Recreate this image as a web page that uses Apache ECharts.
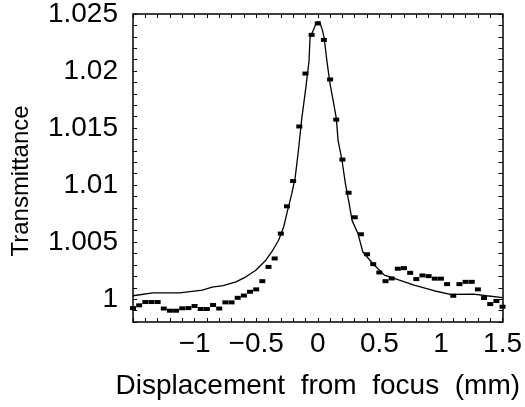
<!DOCTYPE html>
<html>
<head>
<meta charset="utf-8">
<script src="https://cdn.jsdelivr.net/npm/echarts@6/dist/echarts.min.js"></script>
<style>
  html, body { margin: 0; padding: 0; background: #fff; }
  #chart { width: 525px; height: 407px; }
</style>
</head>
<body>
<div id="chart"></div>
<script>
// measured points (dashes), one every 0.05 mm
const pointX = [
  -1.5, -1.45, -1.4, -1.35, -1.3, -1.25, -1.2, -1.15, -1.1, -1.05,
  -1.0, -0.95, -0.9, -0.85, -0.8, -0.75, -0.7, -0.65, -0.6, -0.55,
  -0.5, -0.45, -0.4, -0.35, -0.3, -0.25, -0.2, -0.15, -0.1, -0.05,
  0.0, 0.05, 0.1, 0.15, 0.2, 0.25, 0.3, 0.35, 0.4, 0.45,
  0.5, 0.55, 0.6, 0.65, 0.7, 0.75, 0.8, 0.85, 0.9, 0.95,
  1.0, 1.05, 1.1, 1.15, 1.2, 1.25, 1.3, 1.35, 1.4, 1.45, 1.5
];
const pointY = [
  0.99922, 0.99946, 0.99975, 0.99975, 0.99975, 0.99918, 0.99899, 0.99899, 0.9992, 0.99922,
  0.9994, 0.99914, 0.99914, 0.99949, 0.99918, 0.99972, 0.99972, 1.00012, 1.00032, 1.00065,
  1.00086, 1.00158, 1.00283, 1.00357, 1.00575, 1.00814, 1.01036, 1.01514, 1.01978, 1.02317,
  1.02417, 1.02273, 1.01926, 1.01574, 1.01224, 1.00933, 1.00718, 1.00569, 1.00394, 1.00307,
  1.00234, 1.00158, 1.00182, 1.00267, 1.00272, 1.00231, 1.00176, 1.00208, 1.00202, 1.0018,
  1.0018, 1.00132, 1.0003, 1.00132, 1.00152, 1.00152, 1.00086, 1.0001, 0.99957, 0.99984, 0.99934
];

// fitted curve
const fitX = [
  -1.5, -1.339, -1.122, -0.937, -0.857, -0.768, -0.664, -0.583, -0.503, -0.422,
  -0.374, -0.318, -0.277, -0.245, -0.211, -0.183, -0.157, -0.130, -0.097, -0.071,
  -0.063, -0.028, -0.008, 0.016, 0.039, 0.052, 0.071, 0.098, 0.125, 0.151,
  0.165, 0.197, 0.224, 0.259, 0.278, 0.326, 0.366, 0.446, 0.541, 0.621,
  0.782, 0.943, 1.076, 1.264, 1.371, 1.5
];
const fitY = [
  1.0003, 1.00056, 1.00055, 1.0008, 1.00106, 1.00119, 1.00152, 1.00196, 1.00254, 1.00342,
  1.00414, 1.00517, 1.00633, 1.00779, 1.00925, 1.0107, 1.01303, 1.01583, 1.01853, 1.02089,
  1.0229, 1.0238, 1.0243, 1.0243, 1.02352, 1.0229, 1.02116, 1.01897, 1.0174, 1.01583,
  1.0139, 1.01216, 1.01015, 1.00814, 1.00691, 1.00575, 1.00414, 1.00313, 1.00211, 1.00182,
  1.00123, 1.00074, 1.00042, 1.00045, 1.0003, 1.00014
];

const xLabelValues = [-1, -0.5, 0, 0.5, 1, 1.5];
const xLabelText = ['\u22121', '\u22120.5', '0', '0.5', '1', '1.5'];
const yLabelValues = [1, 1.005, 1.01, 1.015, 1.02, 1.025];
const yLabelText = ['1', '1.005', '1.01', '1.015', '1.02', '1.025'];

const FONT = 'Liberation Sans, Arial, sans-serif';

function pickLabel(values, texts, eps) {
  return (v) => {
    for (let i = 0; i < values.length; i++) {
      if (Math.abs(values[i] - v) < eps) return texts[i];
    }
    return '';
  };
}

const tick = { show: true, inside: true, length: 4, lineStyle: { color: '#000', width: 1 } };
const line = { show: true, onZero: false, lineStyle: { color: '#000', width: 1.5 } };

const chart = echarts.init(document.getElementById('chart'));
chart.setOption({
  animation: false,
  backgroundColor: '#fff',
  grid: { left: 133, right: 19, top: 13, bottom: 85, containLabel: false },
  xAxis: [
    {
      type: 'value', min: -1.5, max: 1.5, interval: 0.1, position: 'bottom',
      axisLine: line, axisTick: tick, splitLine: { show: false },
      axisLabel: {
        formatter: pickLabel(xLabelValues, xLabelText, 1e-6),
        color: '#000', fontSize: 28, fontFamily: FONT, margin: 8,
      },
      name: 'Displacement  from  focus  (mm)',
      nameLocation: 'middle', nameGap: 50,
      nameTextStyle: { color: '#000', fontSize: 28, fontFamily: FONT },
    },
    {
      type: 'value', min: -1.5, max: 1.5, interval: 0.1, position: 'top',
      axisLine: line, axisTick: tick, splitLine: { show: false },
      axisLabel: { show: false },
    },
  ],
  yAxis: [
    {
      type: 'value', min: 0.998, max: 1.025, interval: 0.001, position: 'left',
      axisLine: line, axisTick: tick, splitLine: { show: false },
      axisLabel: {
        formatter: pickLabel(yLabelValues, yLabelText, 1e-7),
        color: '#000', fontSize: 28, fontFamily: FONT, margin: 15,
      },
      name: 'Transmittance',
      nameLocation: 'middle', nameGap: 100, nameRotate: 90,
      nameTextStyle: { color: '#000', fontSize: 24, fontFamily: FONT, padding: [0, 26, 0, 0] },
    },
    {
      type: 'value', min: 0.998, max: 1.025, interval: 0.001, position: 'right',
      axisLine: line, axisTick: tick, splitLine: { show: false },
      axisLabel: { show: false },
    },
  ],
  series: [
    {
      type: 'line',
      data: fitX.map((x, i) => [x, fitY[i]]),
      showSymbol: false,
      lineStyle: { color: '#000', width: 1.3 },
      z: 2,
    },
    {
      type: 'scatter',
      data: pointX.map((x, i) => [x, pointY[i]]),
      symbol: 'rect',
      symbolSize: [6, 4],
      itemStyle: { color: '#000', opacity: 1 },
      z: 3,
    },
  ],
});
</script>
</body>
</html>
